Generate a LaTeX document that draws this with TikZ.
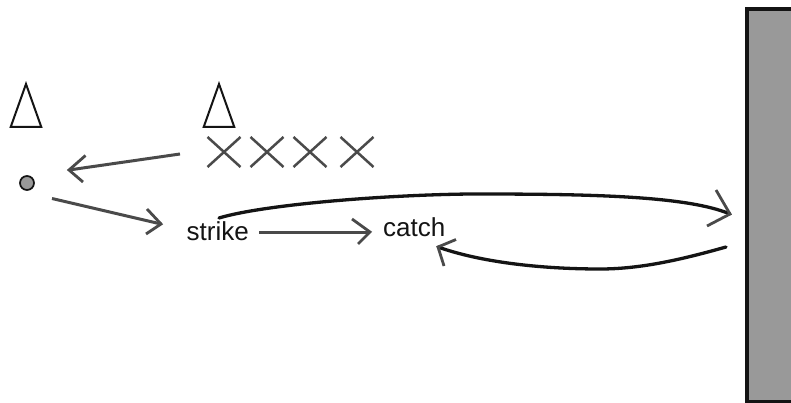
\documentclass[tikz,border=0pt]{standalone}
\usepackage{fontspec}
\setmainfont{Liberation Sans}
\definecolor{pen}{HTML}{4A4A4A}
\definecolor{ink}{HTML}{141414}
\definecolor{fillgrey}{HTML}{999999}
\tikzset{
  cone/.style={draw=ink,line width=2pt,line join=miter},
  cross/.style={draw=pen,line width=2.5pt},
  grey arrow/.style={draw=pen,line width=3pt},
  sweep/.style={draw=ink,line width=3.3pt,line cap=round},
  barb/.style={draw=pen,line width=2.8pt},
  label text/.style={font=\fontsize{26}{28}\selectfont,text=ink,inner sep=0pt,anchor=base west},
  wall/.style={draw=ink,line width=3.4pt,fill=fillgrey,rectangle,inner sep=0pt,minimum width=54pt,minimum height=392.6pt},
  ball/.style={circle,draw=ink,line width=1.7pt,fill=fillgrey,minimum size=14pt,inner sep=0pt}
}
\newcommand{\conemark}[2]{%
  \draw[cone] (#1-15.3,#2+29) -- (#1,#2-14) -- (#1+15.3,#2+29) -- cycle;}
\newcommand{\crossmark}[2]{%
  \draw[cross] (#1-16.5,#2-15) -- (#1+16.5,#2+15) (#1-16.5,#2+15) -- (#1+16.5,#2-15);}
\begin{document}
\begin{tikzpicture}[x=1pt,y=-1pt]
\useasboundingbox (0,0) rectangle (791,403);
\fill[white] (0,0) rectangle (791,403);
\begin{scope}
\clip (0,0) rectangle (791,403);
\node[wall] (wallnode) at (774,205.2) {};
\end{scope}
\conemark{26}{98}
\conemark{219}{98}
\crossmark{224}{152}
\crossmark{267}{152}
\crossmark{310}{152}
\crossmark{357}{152}
\node[ball] (ball) at (27,183) {};
\node[label text] (strike) at (186.5,240) {strike};
\node[label text] (catch) at (383,236) {catch};
% throw to the left
\coordinate (throwstart) at (180,154);
\coordinate (throwtip) at (69,170);
\coordinate (throwa) at (85.5,155.5);
\coordinate (throwb) at (83,182);
\draw[grey arrow] (throwstart) -- (throwtip);
\draw[barb,line join=miter] (throwa) -- (throwtip) -- (throwb);
% ball to strike
\coordinate (strikestart) at (52,198.5);
\coordinate (striketip) at (161,224);
\coordinate (strikea) at (147,209);
\coordinate (strikeb) at (146,234);
\draw[grey arrow] (strikestart) -- (striketip);
\draw[barb] (strikea) -- (striketip) -- (strikeb);
% strike to catch
\coordinate (midstart) at (259,232);
\coordinate (catchtip) at (370,232);
\draw[grey arrow] (midstart) -- (catchtip);
\draw[barb] (352,219) -- (catchtip) -- (358,244);
% to the wall
\coordinate (outstart) at (219,218);
\coordinate (outtip) at (730,214);
\draw[sweep] (outstart) .. controls (262,205) and (380,195) .. (470,194)
  .. controls (580,194) and (685,195) .. (outtip);
\draw[barb] (716,190) -- (outtip) -- (707,226);
% back from the wall
\coordinate (backstart) at (726,247);
\coordinate (backtip) at (438,247);
\draw[sweep] (backstart) .. controls (680,260) and (640,269) .. (600,269)
  .. controls (540,269) and (480,262) .. (backtip);
\draw[barb] (456,239.5) -- (backtip) -- (444,266);
\end{tikzpicture}
\end{document}
